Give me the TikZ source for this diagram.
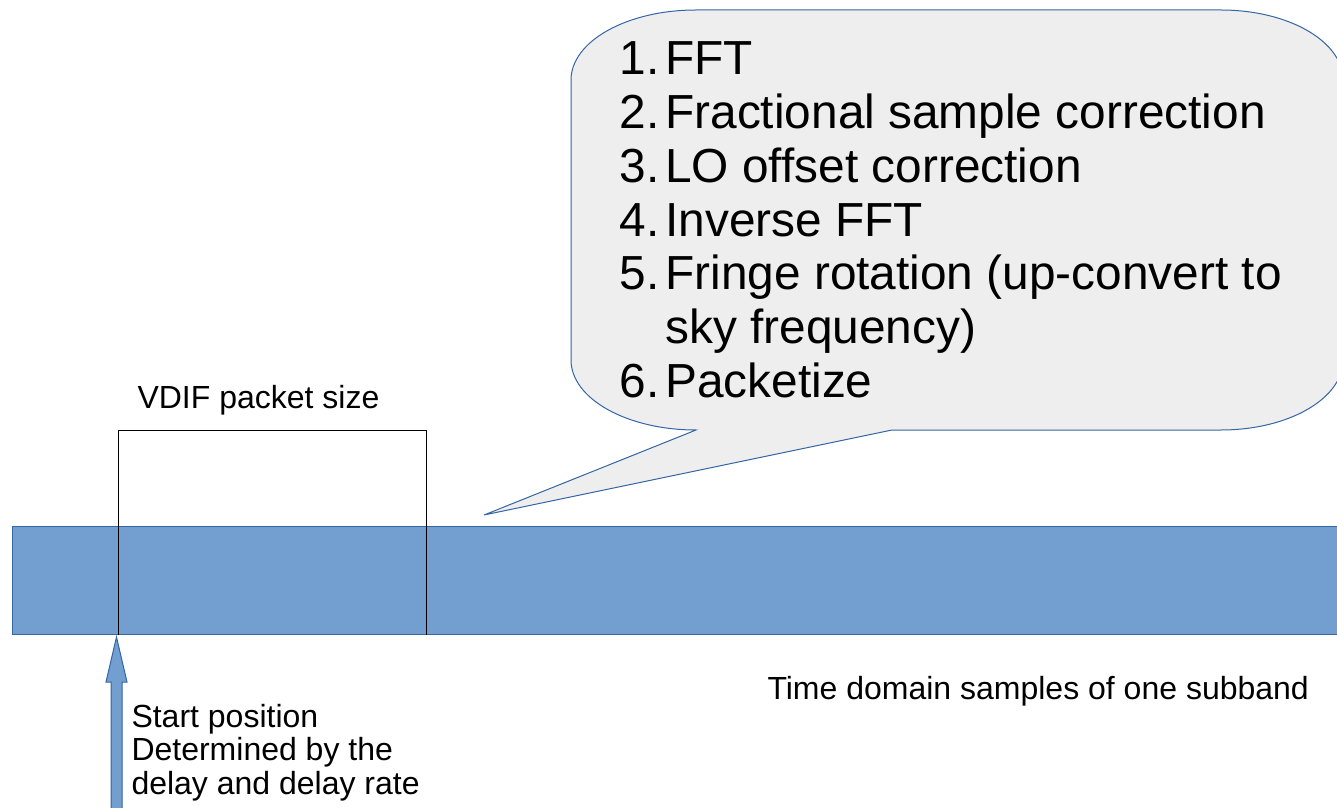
\documentclass[tikz,border=0pt]{standalone}
\usepackage{fontspec}
\setmainfont{Liberation Sans}
\usetikzlibrary{positioning}
\definecolor{barblue}{HTML}{729FCF}
\definecolor{edgeblue}{HTML}{3465A4}
\definecolor{bubblegrey}{HTML}{EEEEEE}

\begin{document}
\begin{tikzpicture}[x=1pt,y=1pt,line width=1pt,
    smalltext/.style={inner sep=0pt,font=\fontsize{32}{33.5}\selectfont,align=left},
    bigtext/.style={inner sep=0pt,font=\fontsize{47.8}{53.7}\selectfont}]
			\useasboundingbox (0,0) rectangle (1337,807);
			% subband and packet
			\node[draw=edgeblue,fill=barblue,minimum width=1340pt,minimum height=108pt,inner sep=0pt,anchor=south west] (band) at (12,172) {};
			\coordinate (p0) at (118,172);
			\coordinate (p1) at (426,172);
			\draw (p0) -- ++(0,205) -| (p1);
			\node[smalltext,anchor=base west] (pktlabel) at (137,399) {VDIF packet size};
			\node[smalltext,anchor=base west] (bandlabel) at (767,108) {Time domain samples of one subband};
			% start arrow
			\coordinate (start) at (116.5,170);
			\filldraw[fill=barblue,draw=edgeblue] (start) -- ++(10.5,-45) -- ++(-5,0) -- ++(0,-130) -- ++(-11,0) -- ++(0,130) -- ++(-5,0) -- cycle;
			\node[smalltext,anchor=base west] (startlabel) at (131,13) {Start position\\Determined by the\\delay and delay rate};
			% callout
			\coordinate (tip) at (484,292);
			\filldraw[fill=bubblegrey,draw=edgeblue] (696,797) -- (1221,797)
				arc[start angle=90,end angle=0,x radius=122,y radius=70] -- (1343,447)
				arc[start angle=0,end angle=-90,x radius=122,y radius=70] -- (892,377) -- (tip) -- (696,377)
				arc[start angle=-90,end angle=-180,x radius=125,y radius=70] -- (571,727)
				arc[start angle=180,end angle=90,x radius=125,y radius=70] -- cycle;
			\node[bigtext,anchor=base west] (steplist) at (619,732) {\begin{tabular}[t]{@{}r@{\hspace{6pt}}l@{}}
				1.&FFT\\
				2.&Fractional sample correction\\
				3.&LO offset correction\\
				4.&Inverse FFT\\
				5.&Fringe rotation (up-convert to\\
				  &sky frequency)\\
				6.&Packetize
			\end{tabular}};
		\end{tikzpicture}
\end{document}
